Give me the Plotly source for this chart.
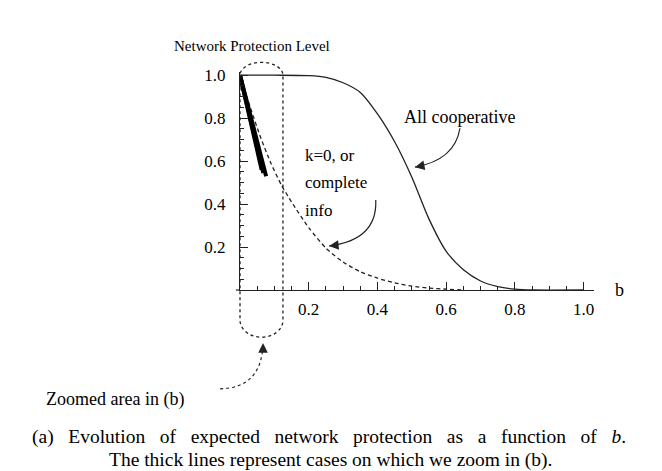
import plotly.graph_objects as go

# ---- data ----
coop_b = [0, 0.1, 0.2, 0.25, 0.3, 0.35, 0.4, 0.45, 0.5, 0.55, 0.6, 0.65, 0.7, 0.75, 0.8, 0.85, 1.0]
coop_v = [1, 1, 0.998, 0.99, 0.965, 0.92, 0.82, 0.69, 0.525, 0.33, 0.18, 0.094, 0.042, 0.016, 0.004, 0, 0]

k0_b = [0, 0.03, 0.06, 0.09, 0.12, 0.15, 0.2, 0.25, 0.3, 0.35, 0.4, 0.45, 0.5, 0.55, 0.6, 0.65]
k0_v = [1, 0.85, 0.71, 0.59, 0.49, 0.41, 0.29, 0.195, 0.13, 0.085, 0.055, 0.033, 0.018, 0.009, 0.004, 0.0]

thick_b = [[0, 0.063], [0, 0.068], [0, 0.076]]
thick_v = [[1, 0.56], [1, 0.545], [1, 0.53]]

x_ticks = [0.2, 0.4, 0.6, 0.8, 1.0]
x_ticktext = ["0.2", "0.4", "0.6", "0.8", "1.0"]
y_ticks = [0.2, 0.4, 0.6, 0.8, 1.0]
y_ticktext = ["0.2", "0.4", "0.6", "0.8", "1.0"]

XR = [0, 1.03]
YR = [0, 1.015]
FONT = "Liberation Serif, Times New Roman, serif"
INK = "#222"


def px(b):
    return (b - XR[0]) / (XR[1] - XR[0])


def py(v):
    return (v - YR[0]) / (YR[1] - YR[0])


fig = go.Figure()
fig.add_trace(go.Scatter(x=coop_b, y=coop_v, mode="lines",
                         line=dict(color=INK, width=1.3, shape="spline", smoothing=0.8),
                         showlegend=False, hoverinfo="skip"))
fig.add_trace(go.Scatter(x=k0_b, y=k0_v, mode="lines",
                         line=dict(color=INK, width=1.3, dash="4px,3px", shape="spline", smoothing=0.6),
                         showlegend=False, hoverinfo="skip"))
for tb, tv in zip(thick_b, thick_v):
    fig.add_trace(go.Scatter(x=tb, y=tv, mode="lines",
                             line=dict(color="black", width=4),
                             showlegend=False, hoverinfo="skip"))

# ---- dotted capsule marking the zoomed area (data units -> paper) ----
cb0, cb1 = 0.0, 0.125
ctop, cbot = 1.0, -0.14
ry_top, ry_bot = 0.06, 0.08
cx = (cb0 + cb1) / 2
rx = (cb1 - cb0) / 2
k = 0.5523


def P(b, v):
    return f"{px(b):.5f},{py(v):.5f}"


cap = (
    f"M {P(cb0, ctop)} L {P(cb0, cbot)} "
    f"C {P(cb0, cbot - k * ry_bot)} {P(cx - k * rx, cbot - ry_bot)} {P(cx, cbot - ry_bot)} "
    f"C {P(cx + k * rx, cbot - ry_bot)} {P(cb1, cbot - k * ry_bot)} {P(cb1, cbot)} "
    f"L {P(cb1, ctop)} "
    f"C {P(cb1, ctop + k * ry_top)} {P(cx + k * rx, ctop + ry_top)} {P(cx, ctop + ry_top)} "
    f"C {P(cx - k * rx, ctop + ry_top)} {P(cb0, ctop + k * ry_top)} {P(cb0, ctop)}"
)
shapes = [
    dict(type="path", xref="paper", yref="paper", path=cap,
         line=dict(color=INK, width=1.3, dash="dot")),
    # short stub of the b-axis left of the origin
    dict(type="line", xref="paper", yref="paper", x0=px(-0.012), x1=px(0), y0=py(0), y1=py(0),
         line=dict(color=INK, width=1.2)),
]

# curved arrows: (start, control, tip) in data units, arrowhead tail offset in px
arrows = [
    ((0.64, 0.753), (0.625, 0.605), (0.509, 0.572), (10, -2), "solid"),
    ((0.395, 0.419), (0.40, 0.233), (0.259, 0.205), (10, -1), "solid"),
    ((-0.058, -0.46), (0.064, -0.456), (0.067, -0.247), (0, 10), "dot"),
]
annotations = []
for s, c, t, (ax, ay), dash in arrows:
    shapes.append(dict(type="path", xref="paper", yref="paper",
                       path=f"M {P(*s)} Q {P(*c)} {P(*t)}",
                       line=dict(color=INK, width=1.2, dash=dash)))
    annotations.append(dict(x=px(t[0]), y=py(t[1]), xref="paper", yref="paper",
                            ax=ax, ay=ay, axref="pixel", ayref="pixel",
                            text="", showarrow=True, arrowhead=2, arrowsize=1.6,
                            arrowwidth=1.2, arrowcolor=INK, standoff=0))


def label(text, b, v, size, xanchor="left", yanchor="middle"):
    annotations.append(dict(x=px(b), y=py(v), xref="paper", yref="paper",
                            text=text, showarrow=False, xanchor=xanchor, yanchor=yanchor,
                            font=dict(family=FONT, size=size, color="black")))


SP = " \u00a0\u00a0"  # widened word gap (justified caption line)
cap1 = SP.join("(a) Evolution of expected network protection as a function of".split(" ")) + SP + "<i>b</i>."

label("Network Protection Level", 0.035, 1.135, 15, xanchor="center")
label("b", 1.085, 0.0, 18)
label("All cooperative", 0.471, 0.805, 18)
label("k=0, or", 0.183, 0.628, 17)
label("complete", 0.183, 0.502, 17)
label("info", 0.183, 0.372, 17)
label("Zoomed area in (b)", -0.57, -0.51, 18)
label(cap1, 0.258, -0.685, 19.5, xanchor="center")
label("The thick lines represent cases on which we zoom in (b).", 0.262, -0.79, 19.5,
      xanchor="center")

axis_common = dict(showline=True, linecolor=INK, linewidth=1.2, showgrid=False, zeroline=False,
                   ticks="inside", ticklen=8, tickwidth=1, tickcolor=INK,
                   tickfont=dict(family=FONT, size=17, color="black"),
                   minor=dict(ticks="inside", ticklen=4, tickwidth=1, tickcolor=INK,
                              tickmode="linear", tick0=0, dtick=0.05, showgrid=False))

fig.update_layout(
    width=662, height=471,
    margin=dict(l=240, r=68, t=72, b=181),
    paper_bgcolor="white", plot_bgcolor="white",
    xaxis=dict(range=XR, tickmode="array", tickvals=x_ticks, ticktext=x_ticktext,
               ticklabelstandoff=3, **axis_common),
    yaxis=dict(range=YR, tickmode="array", tickvals=y_ticks, ticktext=y_ticktext,
               ticklabelstandoff=10, **axis_common),
    shapes=shapes, annotations=annotations,
)

fig.write_html("out.html", config={"displayModeBar": False, "staticPlot": True},
               post_script="document.body.style.margin='0px';document.body.style.overflow='hidden';")
